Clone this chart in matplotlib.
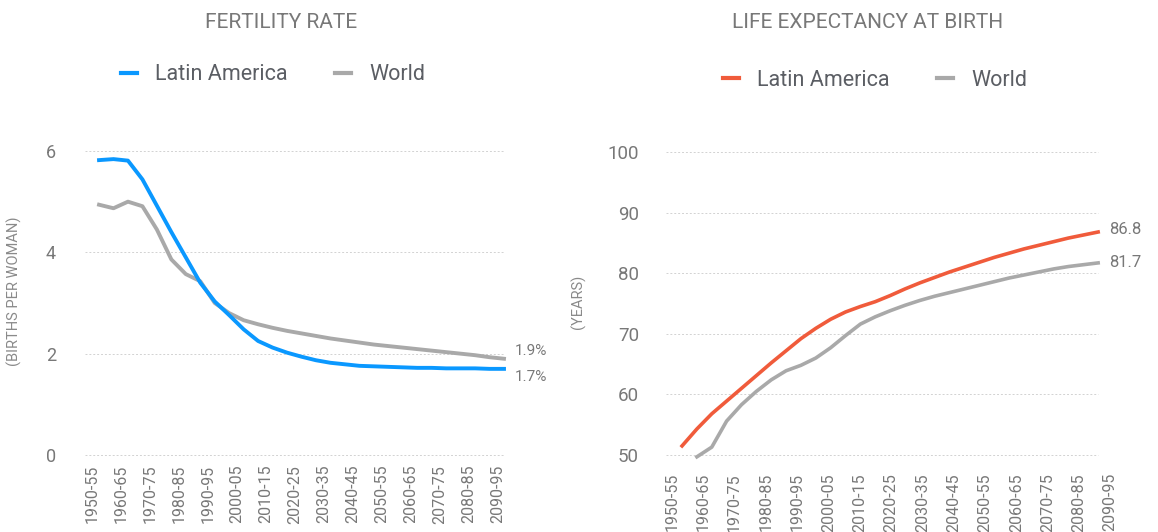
import numpy as np
import matplotlib
matplotlib.use("Agg")
import matplotlib.pyplot as plt
from matplotlib.lines import Line2D

W, H, DPI = 1158, 532, 100

# ── Data ──────────────────────────────────────────────────────────────────────

PERIODS = [
    "1950-55", "1955-60", "1960-65", "1965-70", "1970-75", "1975-80",
    "1980-85", "1985-90", "1990-95", "1995-00", "2000-05", "2005-10",
    "2010-15", "2015-20", "2020-25", "2025-30", "2030-35", "2035-40",
    "2040-45", "2045-50", "2050-55", "2055-60", "2060-65", "2065-70",
    "2070-75", "2075-80", "2080-85", "2085-90", "2090-95",
]
TICK_LABELS = PERIODS[::2]

# births per woman
FERT_LATAM = [5.82, 5.84, 5.81, 5.44, 4.92, 4.40, 3.90, 3.40, 3.03, 2.76,
              2.48, 2.25, 2.12, 2.02, 1.94, 1.87, 1.82, 1.79, 1.76, 1.75,
              1.74, 1.73, 1.72, 1.72, 1.71, 1.71, 1.71, 1.70, 1.70]
FERT_WORLD = [4.94, 4.87, 5.00, 4.91, 4.45, 3.86, 3.57, 3.43, 3.00, 2.80,
              2.66, 2.58, 2.51, 2.45, 2.40, 2.35, 2.30, 2.26, 2.22, 2.18,
              2.15, 2.12, 2.09, 2.06, 2.03, 2.00, 1.97, 1.93, 1.90]

# life expectancy at birth, years
LIFE_LATAM = [51.5, 54.3, 56.8, 58.9, 61.0, 63.1, 65.2, 67.2, 69.2, 70.9,
              72.4, 73.6, 74.5, 75.3, 76.3, 77.4, 78.4, 79.3, 80.2, 81.0,
              81.8, 82.6, 83.3, 84.0, 84.6, 85.2, 85.8, 86.3, 86.8]
LIFE_WORLD = [None, 49.7, 51.3, 55.6, 58.3, 60.5, 62.4, 63.9, 64.8, 66.0,
              67.7, 69.7, 71.6, 72.8, 73.8, 74.7, 75.5, 76.2, 76.8, 77.4,
              78.0, 78.6, 79.2, 79.7, 80.2, 80.7, 81.1, 81.4, 81.7]

FERT_TICKS = [0, 2, 4, 6]
LIFE_TICKS = [50, 60, 70, 80, 90, 100]

# ── Style ─────────────────────────────────────────────────────────────────────

BLUE = "#0a98ff"
ORANGE = "#f05b3b"
GREY = "#a9a9a9"
TEXT = "#787878"
LEGEND_TEXT = "#5b5e64"
GRID = "#d2d2d2"

plt.rcParams["font.family"] = ["Roboto", "DejaVu Sans"]


def px_axes(fig, left, top, right, bottom):
    return fig.add_axes([left / W, 1 - bottom / H, (right - left) / W, (bottom - top) / H])


def style_axes(ax, yticks, xlim, grid_end, tick_shift, tick_step,
               ysize, ypad, xpad):
    ax.set_xlim(*xlim)
    ax.set_ylim(yticks[0], yticks[-1])
    for s in ax.spines.values():
        s.set_visible(False)
    for y in yticks:
        ax.plot([xlim[0], grid_end], [y, y], color=GRID, lw=0.7,
                ls=(0, (2, 2)), zorder=0, clip_on=False)
    ax.set_yticks(yticks)
    ax.set_xticks([tick_shift + tick_step * k for k in range(len(TICK_LABELS))],
                  TICK_LABELS)
    ax.tick_params(axis="y", length=0, pad=ypad, labelsize=ysize, labelcolor=TEXT)
    ax.tick_params(axis="x", length=0, pad=xpad, labelsize=11.5, labelcolor=TEXT,
                   labelrotation=90)


def end_label(ax, x, y, text, dy, size):
    ax.annotate(text, (x, y), xytext=(8, dy), textcoords="offset points",
                ha="left", va="center", fontsize=size, color=TEXT,
                annotation_clip=False)


def legend(fig, color, x, y):
    handles = [Line2D([], [], color=color, lw=3),
               Line2D([], [], color=GREY, lw=3)]
    fig.legend(handles, ["Latin America", "World"], loc="center",
               bbox_to_anchor=(x / W, 1 - y / H), ncol=2, frameon=False,
               fontsize=15.5, handlelength=0.75, handletextpad=0.85,
               columnspacing=2.2, labelcolor=LEGEND_TEXT)


def main():
    fig = plt.figure(figsize=(W / DPI, H / DPI), dpi=DPI, facecolor="white")
    x = np.arange(len(PERIODS))

    # fertility panel
    ax1 = px_axes(fig, 85, 151, 504, 455)
    style_axes(ax1, FERT_TICKS, (-0.97, 28), 28, -0.45, 2,
               ysize=13, ypad=21, xpad=7)
    ax1.plot(x, FERT_WORLD, color=GREY, lw=2.8, clip_on=False)
    ax1.plot(x, FERT_LATAM, color=BLUE, lw=2.8, clip_on=False)
    end_label(ax1, x[-1], FERT_WORLD[-1], f"{FERT_WORLD[-1]:.1f}%", 5.5, 11)
    end_label(ax1, x[-1], FERT_LATAM[-1], f"{FERT_LATAM[-1]:.1f}%", -6, 11)

    # life expectancy panel
    ax2 = px_axes(fig, 666, 152, 1113, 455)
    style_axes(ax2, LIFE_TICKS, (-1.08, 29), 28, -0.67, 2.106,
               ysize=13.5, ypad=19.5, xpad=13)
    life_world = np.array(LIFE_WORLD, dtype=float)
    ax2.plot(x, life_world, color=GREY, lw=2.6, clip_on=False)
    ax2.plot(x, LIFE_LATAM, color=ORANGE, lw=2.6, clip_on=False)
    end_label(ax2, x[-1], LIFE_LATAM[-1], f"{LIFE_LATAM[-1]:.1f}", 2, 12)
    end_label(ax2, x[-1], life_world[-1], f"{life_world[-1]:.1f}", 0, 12)

    # titles, legends, axis captions
    fig.text(281 / W, 1 - 22 / H, "FERTILITY RATE", ha="center", va="center",
             fontsize=15, color=TEXT)
    fig.text(868 / W, 1 - 23 / H, "LIFE EXPECTANCY AT BIRTH", ha="center",
             va="center", fontsize=15, color=TEXT)
    legend(fig, BLUE, 273, 75)
    legend(fig, ORANGE, 875, 80)
    fig.text(14 / W, 1 - 291 / H, "(BIRTHS PER WOMAN)", rotation=90,
             ha="center", va="center", fontsize=10.5, color="#8a8a8a")
    fig.text(578 / W, 1 - 302 / H, "(YEARS)", rotation=90, ha="center",
             va="center", fontsize=10.5, color="#8a8a8a")

    fig.savefig("out.png", dpi=DPI, facecolor="white")
    plt.close(fig)


if __name__ == "__main__":
    main()
